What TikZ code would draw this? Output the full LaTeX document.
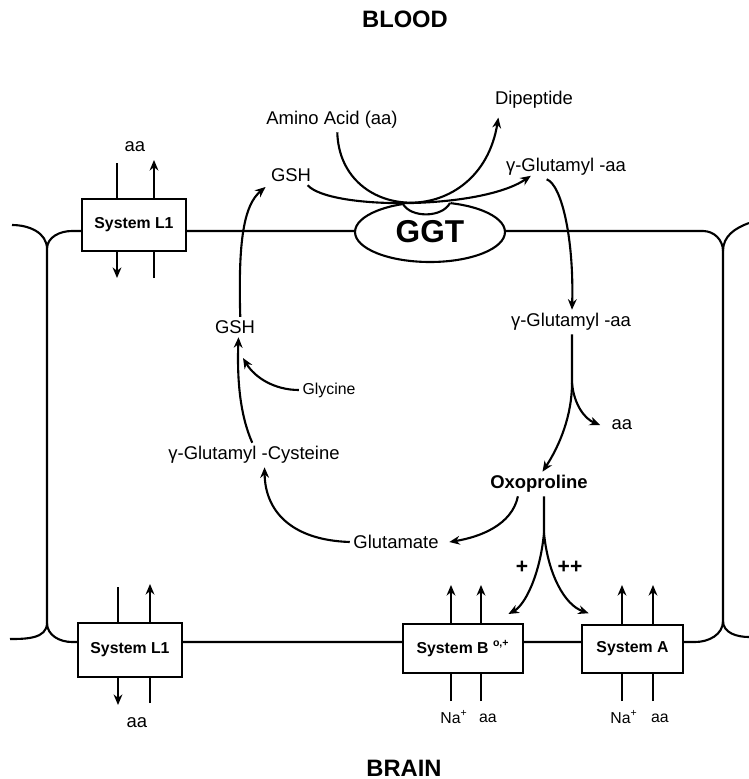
\documentclass[tikz,border=0pt]{standalone}
\usepackage{fontspec}
\setmainfont{Liberation Sans}
\usetikzlibrary{arrows.meta,shapes.geometric}

\begin{document}
\begin{tikzpicture}[x=0.02cm, y=0.02cm, line width=1.2pt,
  >={Stealth[length=6pt,width=5pt]},
  txt/.style={inner sep=1.5pt, font=\fontsize{10.5}{12}\selectfont},
  minor/.style={inner sep=1.5pt, font=\fontsize{9}{11}\selectfont},
  region/.style={font=\bfseries\fontsize{13.5}{16}\selectfont},
  sysbox/.style={draw, fill=white, line width=1.4pt, inner sep=0pt,
    font=\bfseries\fontsize{9}{11}\selectfont}]
  \useasboundingbox (0,0) rectangle (749,-779);

  \draw (12,-225) to[out=0,in=90] (47,-249) to[out=90,in=180] (72,-231)
    -- (703,-231) to[out=0,in=90] (723,-251) -- (723,-621)
    to[out=-90,in=0] (695,-642) -- (72,-642) to[out=180,in=-90] (47,-623)
    -- (47,-249);
  \draw (723,-251) to[out=90,in=200] (749,-223);
  \draw (723,-621) to[out=-90,in=180] (749,-637);
  \draw (47,-623) to[out=-90,in=0] (10,-639);

  \coordinate (t1in) at (117,-163);
  \coordinate (t1out) at (117,-278);
  \coordinate (t2in) at (154,-278);
  \coordinate (t2out) at (154,-160);
  \coordinate (b1in) at (118,-587);
  \coordinate (b1out) at (118,-705);
  \coordinate (b2in) at (150,-703);
  \coordinate (b2out) at (150,-584);
  \coordinate (bo1in) at (451,-701);
  \coordinate (bo1out) at (451,-585);
  \coordinate (bo2in) at (481,-701);
  \coordinate (bo2out) at (481,-585);
  \coordinate (a1in) at (622,-701);
  \coordinate (a1out) at (622,-585);
  \coordinate (a2in) at (653,-701);
  \coordinate (a2out) at (653,-585);
  \draw[->] (t1in) -- (t1out);
  \draw[->] (t2in) -- (t2out);
  \draw[->] (b1in) -- (b1out);
  \draw[->] (b2in) -- (b2out);
  \draw[->] (bo1in) -- (bo1out);
  \draw[->] (bo2in) -- (bo2out);
  \draw[->] (a1in) -- (a1out);
  \draw[->] (a2in) -- (a2out);

  \node[sysbox, minimum width=2.08cm, minimum height=1.04cm] (l1top) at (134,-225) {System L1};
  \node[sysbox, minimum width=2.08cm, minimum height=1.08cm] (l1bot) at (130,-650) {System L1};
  \node[sysbox, minimum width=2.4cm, minimum height=0.98cm] (sysb) at (463,-648.5) {System B \textsuperscript{o,+}};
  \node[sysbox, minimum width=2.02cm, minimum height=0.96cm] (sysa) at (632.5,-649) {System A};

  \node[ellipse, draw, fill=white, minimum width=3cm, minimum height=1.2cm, inner sep=0pt,
    font=\bfseries\fontsize{18}{20}\selectfont] (ggt) at (430,-232) {GGT};
  \fill[white] (401,-198) -- (452,-198) -- (450,-204) .. controls (442,-219) and (411,-219) .. (403,-205) -- cycle;
  \draw (450,-203) .. controls (442,-218) and (411,-218) .. (403,-204);

  \node[region] (blood) at (405,-19) {BLOOD};
  \node[region] (brain) at (404,-768) {BRAIN};
  \node[txt] (aatop) at (135,-147) {aa};
  \node[txt] (aabot) at (137,-723) {aa};
  \node[txt] (amino) at (332,-120) {Amino Acid (aa)};
  \node[txt] (dip) at (534,-100) {Dipeptide};
  \node[txt] (gshtop) at (291,-175) {GSH};
  \node[txt] (gglaup) at (566,-167) {γ-Glutamyl -aa};
  \node[txt] (gglalow) at (571,-322) {γ-Glutamyl -aa};
  \node[txt] (gshlow) at (235,-327) {GSH};
  \node[minor] (gly) at (329,-390) {Glycine};
  \node[txt] (gglcys) at (254,-455) {γ-Glutamyl -Cysteine};
  \node[txt] (aafree) at (622,-425) {aa};
  \node[txt, font=\bfseries\fontsize{10.5}{12}\selectfont] (oxo) at (539,-484) {Oxoproline};
  \node[txt] (glu) at (396,-542) {Glutamate};
  \node[txt, font=\bfseries\fontsize{12}{13}\selectfont] (pl1) at (522,-567) {+};
  \node[txt, font=\bfseries\fontsize{12}{13}\selectfont] (pl2) at (570,-567) {++};
  \node[minor] (na1) at (454,-717) {Na\textsuperscript{+}};
  \node[minor] (aa1) at (488,-718) {aa};
  \node[minor] (na2) at (624,-717) {Na\textsuperscript{+}};
  \node[minor] (aa2) at (660,-718) {aa};

  \coordinate (cut1) at (572,-383);
  \coordinate (cut2) at (544,-533);
  \coordinate (glyin) at (243,-358);

  \draw[->] ([xshift=3pt]amino.south) .. controls (340,-225) and (480,-230) .. ([shift={(4pt,-3pt)}]dip.south west);
  \draw[->] ([xshift=-4pt]gshtop.south east) .. controls (330,-210) and (480,-210) .. ([shift={(-20pt,2pt)}]gglaup.south);
  \draw[->] ([xshift=-11pt]gglaup.south) .. controls (562,-185) and (574,-240) .. (gglalow.north -| cut1);
  \draw[->] (gglalow.south -| cut1) -- (cut1) .. controls (572,-415) and (560,-445) .. ([xshift=2pt]oxo.north);
  \draw[->] (cut1) .. controls (574,-405) and (585,-419) .. ([xshift=-4.5pt]aafree.west);
  \draw[->] ([xshift=-12pt]oxo.south) .. controls (512,-525) and (480,-537) .. ([xshift=4pt]glu.east);
  \draw[->] (oxo.south -| cut2) -- (cut2) .. controls (540,-575) and (525,-605) .. ([shift={(-9pt,5pt)}]sysb.north east);
  \draw[->] (cut2) .. controls (548,-575) and (565,-605) .. ([shift={(4.5pt,6pt)}]sysa.north west);
  \draw[->] (glu.west) .. controls (290,-540) and (265,-510) .. ([xshift=6pt]gglcys.south);
  \draw[->] ([xshift=-1pt]gglcys.north) .. controls (240,-415) and (237,-380) .. ([xshift=2pt]gshlow.south);
  \draw[->] (gly.west) .. controls (275,-390) and (255,-378) .. (glyin);
  \draw[->] ([xshift=3pt]gshlow.north) .. controls (238,-240) and (244,-205) .. ([shift={(-1pt,-1pt)}]gshtop.south west);
\end{tikzpicture}
\end{document}
